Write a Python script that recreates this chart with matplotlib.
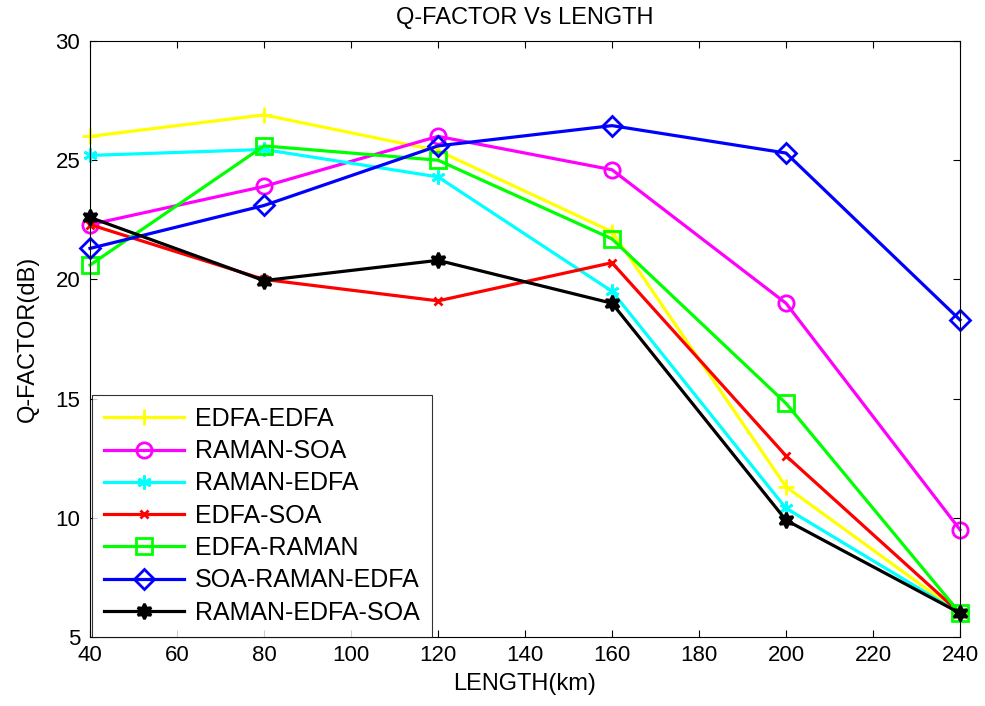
import matplotlib
matplotlib.use("Agg")
import matplotlib.pyplot as plt

plt.rcParams['font.family'] = ['Liberation Sans', 'DejaVu Sans']

length_km = [40, 80, 120, 160, 200, 240]

edfa_edfa = [26.0, 26.9, 25.4, 22.0, 11.3, 6.0]
raman_soa = [22.3, 23.9, 26.0, 24.6, 19.0, 9.5]
raman_edfa = [25.2, 25.45, 24.3, 19.5, 10.4, 6.0]
edfa_soa = [22.3, 20.0, 19.1, 20.7, 12.6, 6.0]
edfa_raman = [20.6, 25.6, 25.0, 21.7, 14.8, 6.0]
soa_raman_edfa = [21.3, 23.1, 25.6, 26.45, 25.3, 18.3]
raman_edfa_soa = [22.6, 19.95, 20.8, 19.0, 9.9, 6.0]

x_ticks = [40, 60, 80, 100, 120, 140, 160, 180, 200, 220, 240]
y_ticks = [5, 10, 15, 20, 25, 30]

series = [
    ("EDFA-EDFA", edfa_edfa, "#ffff00", "+", 12, "none"),
    ("RAMAN-SOA", raman_soa, "#ff00ff", "o", 11, "none"),
    ("RAMAN-EDFA", raman_edfa, "#00ffff", (6, 2, 0), 10, "none"),
    ("EDFA-SOA", edfa_soa, "#ff0000", "x", 6, "none"),
    ("EDFA-RAMAN", edfa_raman, "#00ff00", "s", 11, "none"),
    ("SOA-RAMAN-EDFA", soa_raman_edfa, "#0000ff", "D", 10, "none"),
    ("RAMAN-EDFA-SOA", raman_edfa_soa, "#000000", (6, 1, 0), 11, "#000000"),
]

fig = plt.figure(figsize=(9.85, 7.06), dpi=100)
ax = fig.add_axes([90 / 985, 69 / 706, 870 / 985, 596 / 706])

for label, vals, color, marker, ms, mfc in series:
    ax.plot(length_km, vals, color=color, linewidth=2.3, marker=marker,
            markersize=ms, markeredgewidth=2, markerfacecolor=mfc,
            markeredgecolor=color, label=label, clip_on=False)

ax.set_xlim(40, 240)
ax.set_ylim(5, 30)
ax.set_xticks(x_ticks)
ax.set_yticks(y_ticks)
ax.tick_params(direction='in', length=5, width=0.8, top=True, right=True,
               labelsize=16)
ax.tick_params(axis='x', pad=6)
ax.tick_params(axis='y', pad=7)
for s in ax.spines.values():
    s.set_linewidth(0.8)

ax.set_title("Q-FACTOR Vs LENGTH", fontsize=17, pad=12)
ax.set_xlabel("LENGTH(km)", fontsize=17, labelpad=5)
ax.set_ylabel("Q-FACTOR(dB)", fontsize=17, labelpad=12)

leg = ax.legend(loc='lower left', bbox_to_anchor=(0.002, 0.0), borderaxespad=0,
                fontsize=18, handlelength=3.2, labelspacing=0.33,
                frameon=True, fancybox=False, edgecolor='black',
                borderpad=0.5, handletextpad=0.42)
leg.get_frame().set_linewidth(0.8)

fig.savefig("out.png", dpi=100)
